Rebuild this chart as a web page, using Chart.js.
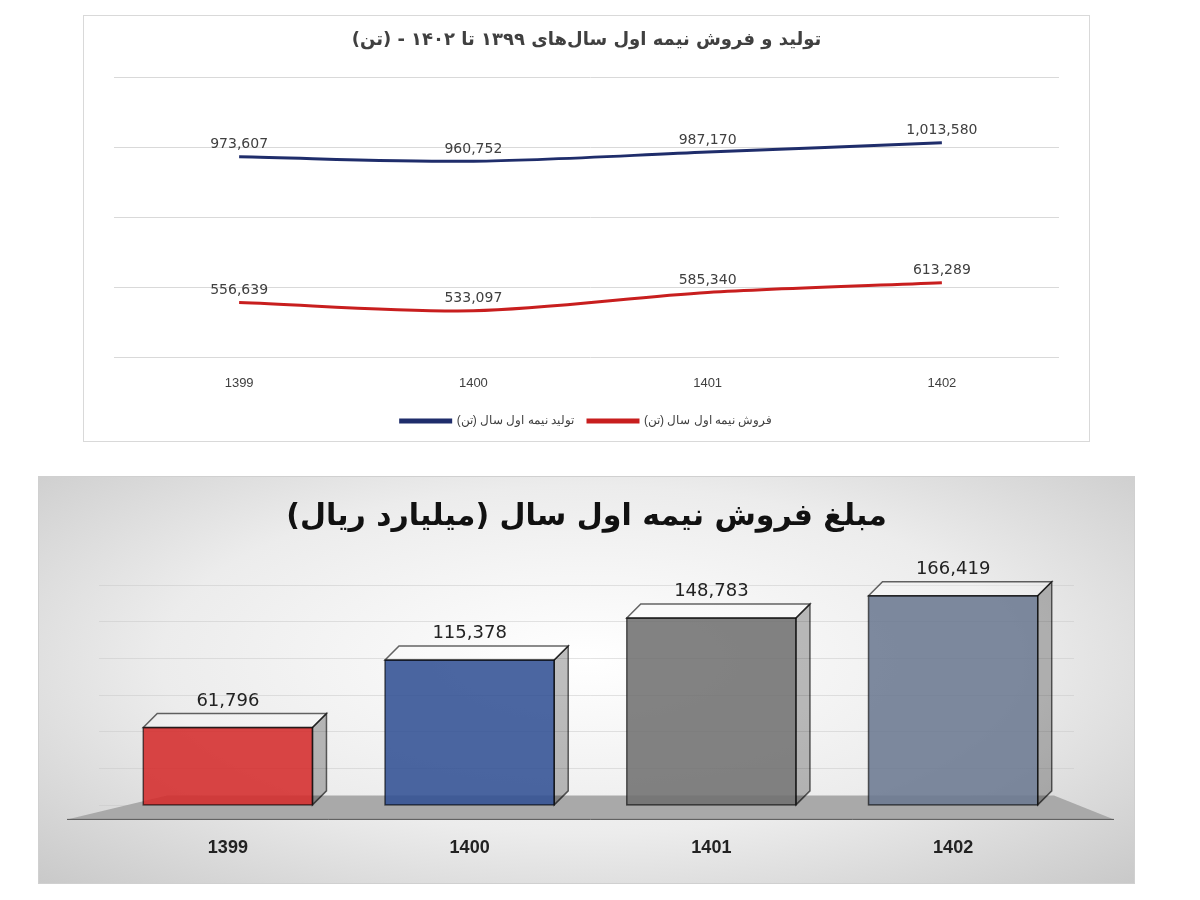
<!DOCTYPE html>
<html>
<head>
  <script src="https://cdn.jsdelivr.net/npm/chart.js"></script>
  <style>
    body { margin: 0; background: #fff; font-family: "DejaVu Sans", Arial, sans-serif; }
    #top { position: absolute; left: 83px; top: 15px; width: 1005px; height: 425px; border: 1px solid #d9d9d9; background: #fff; }
    #bottom { position: absolute; left: 38px; top: 476px; width: 1095px; height: 406px; border: 1px solid #d0d0d0;
      background: radial-gradient(ellipse at 50% 45%, #ffffff 0%, #ececec 55%, #c9c9c9 100%); }
  </style>
</head>
<body>
  <div id="top"><canvas id="lineChart"></canvas></div>
  <div id="bottom"><canvas id="barChart"></canvas></div>

  <script>
    const years = ['1399', '1400', '1401', '1402'];
    const production = [973607, 960752, 987170, 1013580];
    const sales = [556639, 533097, 585340, 613289];
    const salesAmount = [61796, 115378, 148783, 166419];
    const barColors = ['#d42a2a', '#2f4f93', '#6f6f6f', '#6a7890'];

    const fmt = v => v.toLocaleString('en-US');

    // value labels above each point / bar
    const valueLabels = {
      id: 'valueLabels',
      afterDatasetsDraw(chart, args, opts) {
        const ctx = chart.ctx;
        ctx.save();
        ctx.font = opts.font;
        ctx.fillStyle = opts.color;
        ctx.textAlign = 'center';
        chart.data.datasets.forEach((ds, di) => {
          chart.getDatasetMeta(di).data.forEach((el, i) => {
            ctx.fillText(fmt(ds.data[i]), el.x, el.y - opts.offset);
          });
        });
        ctx.restore();
      }
    };

    new Chart(document.getElementById('lineChart'), {
      type: 'line',
      data: {
        labels: years,
        datasets: [
          { label: 'تولید نیمه اول سال (تن)', data: production, borderColor: '#1f2d6b', backgroundColor: '#1f2d6b', borderWidth: 3, pointRadius: 0, tension: 0.3 },
          { label: 'فروش نیمه اول سال (تن)', data: sales, borderColor: '#c81e1e', backgroundColor: '#c81e1e', borderWidth: 3, pointRadius: 0, tension: 0.3 }
        ]
      },
      options: {
        responsive: true, maintainAspectRatio: false, animation: false,
        layout: { padding: { left: 30, right: 30, top: 8, bottom: 4 } },
        plugins: {
          title: { display: true, text: 'تولید و فروش نیمه اول سال‌های ۱۳۹۹ تا ۱۴۰۲ - (تن)', color: '#404040', font: { size: 18, family: 'DejaVu Sans' }, padding: { top: 6, bottom: 26 } },
          legend: { position: 'bottom', labels: { boxWidth: 50, boxHeight: 2, color: '#404040', font: { size: 12 }, padding: 14 } },
          valueLabels: { font: '14px "DejaVu Sans"', color: '#404040', offset: 12 },
          tooltip: { enabled: false }
        },
        scales: {
          x: { offset: true, grid: { display: false }, border: { display: false }, ticks: { color: '#404040', font: { size: 13 }, padding: 10 } },
          y: { min: 400000, max: 1200000, ticks: { stepSize: 200000, display: false }, grid: { color: '#d9d9d9' }, border: { display: false } }
        }
      },
      plugins: [valueLabels]
    });

    // 3D look for the bars: top and side faces
    const bars3d = {
      id: 'bars3d',
      beforeDatasetsDraw(chart) {
        const ctx = chart.ctx, a = chart.chartArea;
        ctx.save();
        ctx.fillStyle = '#a9a9a9';
        ctx.beginPath();
        ctx.moveTo(a.left - 40, a.bottom + 14);
        ctx.lineTo(a.right + 40, a.bottom + 14);
        ctx.lineTo(a.right - 20, a.bottom - 10);
        ctx.lineTo(a.left + 60, a.bottom - 10);
        ctx.closePath();
        ctx.fill();
        ctx.strokeStyle = '#555';
        ctx.beginPath();
        ctx.moveTo(a.left - 40, a.bottom + 14);
        ctx.lineTo(a.right + 40, a.bottom + 14);
        ctx.stroke();
        ctx.restore();
      },
      afterDatasetsDraw(chart) {
        const ctx = chart.ctx, d = 14;
        ctx.save();
        chart.getDatasetMeta(0).data.forEach((el, i) => {
          const l = el.x - el.width / 2, r = el.x + el.width / 2, t = el.y, b = el.base;
          ctx.strokeStyle = 'rgba(0,0,0,0.6)';
          ctx.lineWidth = 1.5;
          ctx.fillStyle = 'rgba(255,255,255,0.25)';
          ctx.beginPath();
          ctx.moveTo(l, t); ctx.lineTo(l + d, t - d); ctx.lineTo(r + d, t - d); ctx.lineTo(r, t); ctx.closePath();
          ctx.fill(); ctx.stroke();
          ctx.fillStyle = 'rgba(0,0,0,0.25)';
          ctx.beginPath();
          ctx.moveTo(r, t); ctx.lineTo(r + d, t - d); ctx.lineTo(r + d, b - d); ctx.lineTo(r, b); ctx.closePath();
          ctx.fill(); ctx.stroke();
          ctx.strokeRect(l, t, r - l, b - t);
        });
        ctx.restore();
      }
    };

    new Chart(document.getElementById('barChart'), {
      type: 'bar',
      data: {
        labels: years,
        datasets: [{ data: salesAmount, backgroundColor: barColors.map(c => c + 'dd'), barPercentage: 0.7, categoryPercentage: 1 }]
      },
      options: {
        responsive: true, maintainAspectRatio: false, animation: false,
        layout: { padding: { left: 60, right: 60, top: 0, bottom: 0 } },
        plugins: {
          title: { display: true, text: 'مبلغ فروش نیمه اول سال (میلیارد ریال)', color: '#111', font: { size: 30, weight: 'bold', family: 'DejaVu Sans' }, padding: { top: 22, bottom: 50 } },
          legend: { display: false },
          valueLabels: { font: '18px "DejaVu Sans"', color: '#222', offset: 22 },
          tooltip: { enabled: false }
        },
        scales: {
          x: { grid: { display: false }, border: { display: false }, ticks: { color: '#222', font: { size: 18, weight: 'bold' }, padding: 24 } },
          y: { min: 0, max: 175000, ticks: { display: false, stepSize: 30000 }, grid: { color: 'rgba(200,200,200,0.5)' }, border: { display: false } }
        }
      },
      plugins: [valueLabels, bars3d]
    });
  </script>
</body>
</html>
